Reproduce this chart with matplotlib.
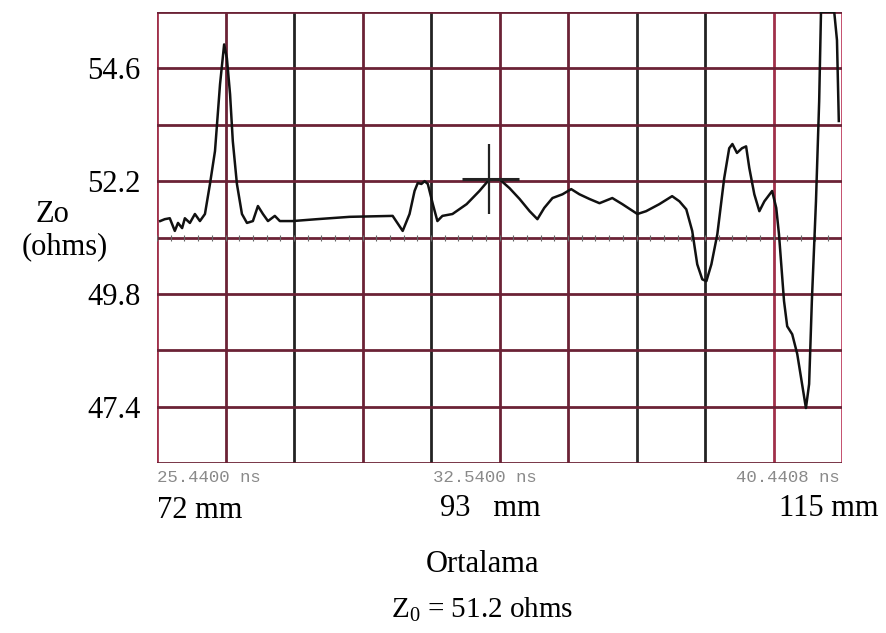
import matplotlib.pyplot as plt
import numpy as np

plt.rcParams['mathtext.fontset'] = 'custom'
plt.rcParams['mathtext.rm'] = 'Liberation Serif'
plt.rcParams['mathtext.it'] = 'Liberation Serif:italic'

# TDR trace, time in ns, impedance in ohms
t_ns = [25.51, 25.61, 25.72, 25.83, 25.90, 25.99, 26.05, 26.16, 26.27, 26.38,
        26.49, 26.60, 26.71, 26.82, 26.91, 26.97, 27.04, 27.10, 27.19, 27.30,
        27.41, 27.54, 27.65, 27.76, 27.87, 28.02, 28.13, 28.41, 28.94, 29.66,
        30.60, 30.82, 30.97, 31.08, 31.15, 31.23, 31.30, 31.37, 31.48, 31.58,
        31.69, 31.91, 32.22, 32.50, 32.72, 32.94, 33.16, 33.38, 33.60, 33.77,
        33.92, 34.10, 34.32, 34.51, 34.69, 34.91, 35.13, 35.41, 35.63, 35.96,
        36.15, 36.44, 36.72, 36.88, 37.03, 37.16, 37.27, 37.38, 37.47, 37.58,
        37.71, 37.86, 37.97, 38.04, 38.14, 38.25, 38.34, 38.41, 38.52, 38.63,
        38.74, 38.91, 39.00, 39.06, 39.17, 39.24, 39.35, 39.46, 39.65, 39.72,
        39.78, 39.87, 39.94, 39.98, 40.27, 40.33, 40.37]
zo = [51.35, 51.39, 51.41, 51.14, 51.31, 51.20, 51.41, 51.31, 51.50, 51.35,
      51.50, 52.14, 52.84, 54.26, 55.11, 54.82, 54.05, 53.05, 52.14, 51.50,
      51.31, 51.35, 51.67, 51.50, 51.35, 51.46, 51.35, 51.35, 51.39, 51.44,
      51.46, 51.14, 51.50, 51.99, 52.16, 52.14, 52.20, 52.14, 51.71, 51.35,
      51.46, 51.50, 51.71, 51.99, 52.24, 52.24, 52.05, 51.82, 51.56, 51.39,
      51.63, 51.84, 51.92, 52.03, 51.92, 51.82, 51.73, 51.84, 51.71, 51.50,
      51.56, 51.71, 51.88, 51.77, 51.60, 51.14, 50.43, 50.11, 50.07, 50.43,
      51.07, 52.26, 52.90, 52.99, 52.80, 52.90, 52.94, 52.48, 51.92, 51.56,
      51.77, 51.99, 51.63, 51.07, 49.65, 49.11, 48.94, 48.52, 47.37, 47.88,
      49.65, 51.77, 53.90, 55.80, 55.80, 55.20, 53.48]

ylabels_val = [54.6, 52.2, 49.8, 47.4]
t_start, t_div = 25.44, 1.5
z_bottom, z_div = 46.2, 1.2
cursor_t, cursor_z = 32.72, 52.24

maroon = '#6b2236'
red = '#a0304a'
vcolors = [red, maroon, '#222222', maroon, '#222222', maroon, maroon,
           '#2a2a2a', '#222222', red, '#c04060']

fig = plt.figure(figsize=(8.87, 6.33), dpi=100)
ax = fig.add_axes([157/887, 170/633, 685/887, 451/633])
ax.set_xlim(t_start, t_start + 10*t_div)
ax.set_ylim(z_bottom, z_bottom + 8*z_div)

for k in range(11):
    ax.axvline(t_start + k*t_div, color=vcolors[k], lw=2, zorder=1)
for k in range(9):
    ax.axhline(z_bottom + k*z_div, color=maroon, lw=2, zorder=1)

# minor ticks along the centre line
mt = t_start + np.arange(0, 50) * t_div / 5
ax.plot(mt, np.full(len(mt), z_bottom + 4*z_div), ls='none', marker='|',
        ms=5, color='#666666', mew=0.8, zorder=2)

ax.plot(t_ns, zo, color='#111111', lw=1.8, zorder=3)

# cursor cross
ax.vlines(cursor_t, cursor_z - 0.75, cursor_z + 0.75, color='#222222', lw=1.6, zorder=4)
ax.hlines(cursor_z, cursor_t - 0.6, cursor_t + 0.65, color='#222222', lw=2.2, zorder=4)

for s in ax.spines.values():
    s.set_visible(False)
ax.set_xticks([])
ax.set_yticks(ylabels_val)
ax.set_yticklabels([f'{v:.1f}' for v in ylabels_val], family='Liberation Serif',
                   fontsize=22)
ax.tick_params(axis='y', length=0, pad=12)

serif = 'Liberation Serif'
ax.text(-0.153, 0.55, 'Zo', transform=ax.transAxes, ha='center', va='center',
        family=serif, fontsize=22)
ax.text(-0.134, 0.479, '(ohms)', transform=ax.transAxes, ha='center', va='center',
        family=serif, fontsize=22)

mono = dict(family='Liberation Mono', fontsize=12.5, color='#8a8a8a', va='center')
ax.text(0.0, -0.033, '25.4400 ns', transform=ax.transAxes, ha='left', **mono)
ax.text(0.479, -0.033, '32.5400 ns', transform=ax.transAxes, ha='center', **mono)
ax.text(0.996, -0.033, '40.4408 ns', transform=ax.transAxes, ha='right', **mono)

ax.text(0.0, -0.106, '72 mm', transform=ax.transAxes, ha='left', va='center',
        family=serif, fontsize=22)
ax.text(0.486, -0.1, '93   mm', transform=ax.transAxes, ha='center', va='center',
        family=serif, fontsize=22)
ax.text(1.0526, -0.1, '115 mm', transform=ax.transAxes, ha='right', va='center',
        family=serif, fontsize=22)
ax.text(0.475, -0.226, 'Ortalama', transform=ax.transAxes, ha='center', va='center',
        family=serif, fontsize=22)
ax.text(0.475, -0.326, r'Z$_\mathrm{0}$ = 51.2 ohms', transform=ax.transAxes,
        ha='center', va='center', family=serif, fontsize=21)

fig.savefig('out.png', dpi=100)
